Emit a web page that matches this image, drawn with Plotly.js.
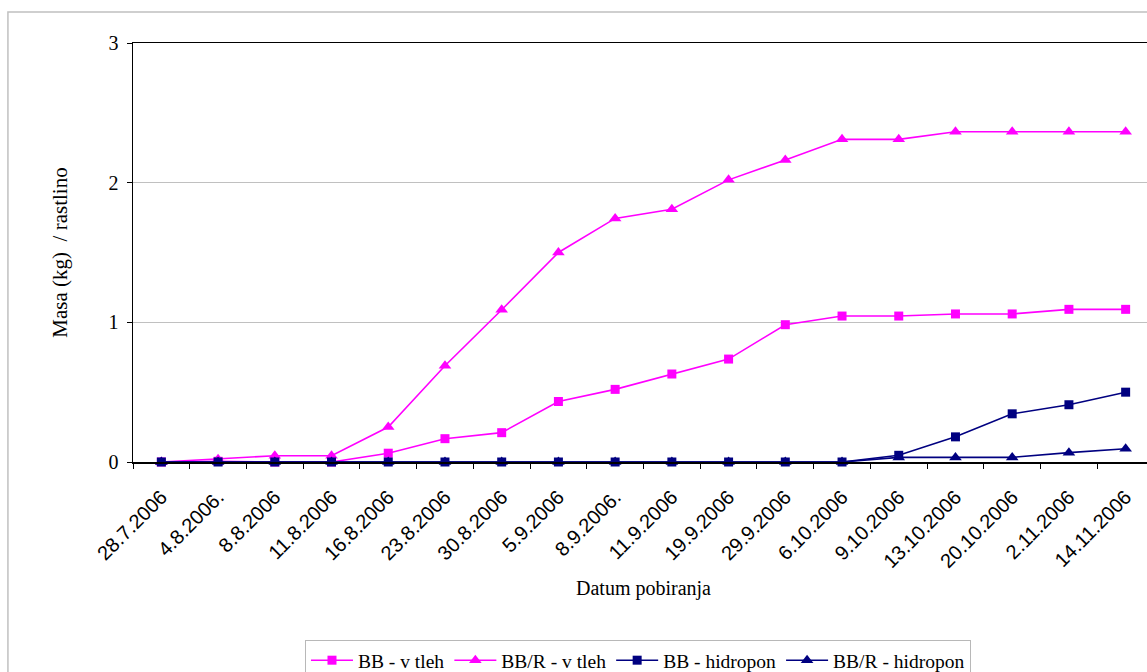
<!DOCTYPE html>
<html>
<head>
<meta charset="utf-8">
<script src="https://cdn.plot.ly/plotly-3.0.1.min.js"></script>
<style>
  html, body { margin: 0; padding: 0; background: #fff; overflow: hidden; }
  #chart { width: 1160px; height: 672px; }
</style>
</head>
<body>
<div id="chart"></div>
<script>
// Harvest dates (category axis)
const dates = ['28.7.2006', '4.8.2006.', '8.8.2006', '11.8.2006', '16.8.2006', '23.8.2006',
  '30.8.2006', '5.9.2006', '8.9.2006.', '11.9.2006', '19.9.2006', '29.9.2006',
  '6.10.2006', '9.10.2006', '13.10.2006', '20.10.2006', '2.11.2006', '14.11.2006'];

// Cumulative yield, kg per plant
const bbTleh   = [0, 0.005, 0, 0, 0.063, 0.167, 0.21, 0.433, 0.52, 0.63, 0.737, 0.983,
  1.045, 1.045, 1.06, 1.06, 1.093, 1.093];
const bbrTleh  = [0, 0.02, 0.045, 0.045, 0.25, 0.689, 1.09, 1.50, 1.744, 1.81, 2.02, 2.163,
  2.31, 2.31, 2.365, 2.365, 2.365, 2.365];
const bbHidro  = [0, 0, 0, 0, 0, 0, 0, 0, 0, 0, 0, 0, 0, 0.048, 0.18, 0.345, 0.41, 0.50];
const bbrHidro = [0, 0, 0, 0, 0, 0, 0, 0, 0, 0, 0, 0, 0, 0.033, 0.033, 0.033, 0.067, 0.095];

const seriesNames = ['BB - v tleh', 'BB/R - v tleh', 'BB - hidropon', 'BB/R - hidropon'];
const yTicks = [0, 1, 2, 3];

const MAGENTA = '#FF00FF';
const NAVY = '#000080';

function series(name, y, color, symbol, size) {
  return {
    type: 'scatter', mode: 'lines+markers', name: name,
    x: dates, y: y,
    line: { color: color, width: 1.6 },
    marker: { color: color, symbol: symbol, size: size, line: { width: 0 } },
    cliponaxis: false
  };
}

const traces = [
  series(seriesNames[0], bbTleh, MAGENTA, 'square', 9),
  series(seriesNames[1], bbrTleh, MAGENTA, 'triangle-up', 11),
  series(seriesNames[2], bbHidro, NAVY, 'square', 9),
  series(seriesNames[3], bbrHidro, NAVY, 'triangle-up', 11)
];

const serif = '"Liberation Serif", "Times New Roman", serif';
const sans = '"Liberation Sans", Arial, sans-serif';

const layout = {
  width: 1160, height: 672,
  margin: { l: 133, r: 6, t: 43, b: 210 },
  paper_bgcolor: '#ffffff', plot_bgcolor: '#ffffff',
  showlegend: true,
  font: { family: serif, color: '#000' },
  xaxis: {
    type: 'category',
    automargin: false,
    tickangle: -45,
    tickson: 'boundaries',
    ticks: 'outside', ticklen: 5, tickcolor: '#000', tickwidth: 1,
    ticklabelstandoff: 14,
    tickfont: { family: sans, size: 20, color: '#000' },
    showline: true, linecolor: '#000', linewidth: 1.5, mirror: true,
    showgrid: false, zeroline: false,
    range: [-0.5, dates.length - 0.5],
    title: { text: 'Datum pobiranja', font: { family: serif, size: 20, color: '#000' }, standoff: 10 }
  },
  yaxis: {
    automargin: false,
    range: [0, 3],
    tickvals: yTicks, ticktext: yTicks.map(String),
    ticks: 'outside', ticklen: 5, tickcolor: '#000', tickwidth: 1,
    ticklabelstandoff: 4,
    tickfont: { family: serif, size: 20, color: '#000' },
    showline: true, linecolor: '#000', linewidth: 1.5, mirror: true,
    showgrid: true, gridcolor: '#c0c0c0', gridwidth: 1,
    zeroline: false,
    title: { text: 'Masa (kg)\u00A0\u00A0/ rastlino', font: { family: serif, size: 21, color: '#000' }, standoff: 35 }
  },
  legend: {
    orientation: 'h',
    xref: 'paper', x: 0.4946, xanchor: 'center',
    yref: 'container', y: 0.0476, yanchor: 'top',
    bordercolor: '#b8b8b8', borderwidth: 1,
    bgcolor: '#ffffff',
    font: { family: serif, size: 19.5, color: '#000' },
    itemwidth: 42,
    traceorder: 'normal'
  },
  shapes: [
    // outer chart frame
    { type: 'rect', xref: 'paper', yref: 'paper',
      x0: -0.1225, x1: 1.05, y0: -0.55, y1: 1.074,
      line: { color: '#c0c0c0', width: 1.5 }, fillcolor: 'rgba(0,0,0,0)', layer: 'below' }
  ]
};

Plotly.newPlot('chart', traces, layout, { displayModeBar: false, staticPlot: true });
</script>
</body>
</html>
